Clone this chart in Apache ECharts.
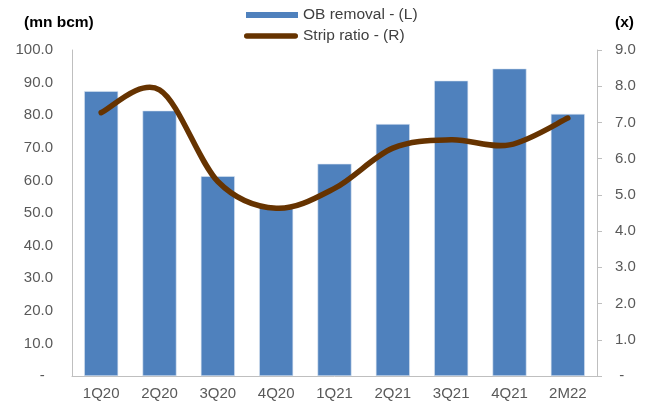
<!DOCTYPE html>
<html><head><meta charset="utf-8">
<script src="https://cdn.jsdelivr.net/npm/echarts@6/dist/echarts.min.js"></script>
<style>html,body{margin:0;padding:0;background:#fff}#c{width:654px;height:403px}</style>
</head><body><div id="c"></div>
<script>
const categories = ['1Q20','2Q20','3Q20','4Q20','1Q21','2Q21','3Q21','4Q21','2M22'];
const obRemoval = [87.4, 81.4, 61.3, 52.1, 65.1, 77.3, 90.6, 94.3, 80.4];
const stripRatio = [7.27, 7.9, 5.37, 4.63, 5.18, 6.29, 6.52, 6.38, 7.12];
const leftTicks = {min: 0, max: 100, interval: 10};
const rightTicks = {min: 0, max: 9, interval: 1};

const font = 'Liberation Sans, Arial, sans-serif';
const chart = echarts.init(document.getElementById('c'), null, {renderer: 'canvas'});

// Excel-like smoothed line (Catmull-Rom -> cubic Bezier) through the data points
function renderStrip(params, api) {
  if (params.dataIndex !== 0) return null;
  const pts = stripRatio.map((v, i) => api.coord([i, v]));
  const n = pts.length;
  let d = 'M' + pts[0][0] + ',' + pts[0][1];
  for (let i = 0; i < n - 1; i++) {
    const p0 = pts[Math.max(i - 1, 0)], p1 = pts[i], p2 = pts[i + 1], p3 = pts[Math.min(i + 2, n - 1)];
    const c1 = [p1[0] + (p2[0] - p0[0]) / 6, p1[1] + (p2[1] - p0[1]) / 6];
    const c2 = [p2[0] - (p3[0] - p1[0]) / 6, p2[1] - (p3[1] - p1[1]) / 6];
    d += ' C' + c1[0] + ',' + c1[1] + ' ' + c2[0] + ',' + c2[1] + ' ' + p2[0] + ',' + p2[1];
  }
  return {
    type: 'path',
    shape: {pathData: d},
    style: {fill: null, stroke: '#663300', lineWidth: 5.5, lineCap: 'round', lineJoin: 'round'}
  };
}

chart.setOption({
  animation: false,
  textStyle: {fontFamily: font},
  grid: {left: 72, right: 57, top: 50, bottom: 27},
  title: [
    {text: '(mn bcm)', left: 24, top: 15, padding: 0,
     textStyle: {fontFamily: font, fontSize: 15.5, fontWeight: 'bold', color: '#000'}},
    {text: '(x)', left: 615, top: 15, padding: 0,
     textStyle: {fontFamily: font, fontSize: 15.5, fontWeight: 'bold', color: '#000'}}
  ],
  legend: [
    {
      left: 246, top: 7, padding: 0, itemWidth: 52, itemHeight: 6,
      textStyle: {fontFamily: font, fontSize: 15.5, color: '#404040'},
      data: [{name: 'OB removal - (L)', icon: 'rect', itemStyle: {borderWidth: 0, color: '#4f81bd'}}]
    },
    {
      left: 244, top: 28, padding: 0, itemWidth: 54, itemHeight: 5.5,
      textStyle: {fontFamily: font, fontSize: 15.5, color: '#404040'},
      data: [{name: 'Strip ratio - (R)',
        icon: 'path://M2.75,0 L51.25,0 A2.75,2.75 0 0 1 51.25,5.5 L2.75,5.5 A2.75,2.75 0 0 1 2.75,0 Z'}]
    }
  ],
  xAxis: {
    type: 'category', data: categories,
    axisLine: {lineStyle: {color: '#bfbfbf', width: 1}},
    axisTick: {show: false},
    axisLabel: {color: '#595959', fontSize: 15, fontFamily: font, margin: 10}
  },
  yAxis: [
    {
      type: 'value', min: leftTicks.min, max: leftTicks.max, interval: leftTicks.interval,
      axisLine: {show: true, lineStyle: {color: '#bfbfbf'}},
      axisTick: {show: false},
      splitLine: {show: false},
      axisLabel: {color: '#595959', fontSize: 15, fontFamily: font, margin: 19,
        formatter: v => v === 0 ? '-  ' : v.toFixed(1)}
    },
    {
      type: 'value', min: rightTicks.min, max: rightTicks.max, interval: rightTicks.interval,
      axisLine: {show: true, lineStyle: {color: '#bfbfbf'}},
      axisTick: {show: true, length: 5, lineStyle: {color: '#bfbfbf'}},
      splitLine: {show: false},
      axisLabel: {color: '#595959', fontSize: 15, fontFamily: font, margin: 18,
        formatter: v => v === 0 ? ' -' : v.toFixed(1)}
    }
  ],
  series: [
    {
      name: 'OB removal - (L)', type: 'bar', data: obRemoval, yAxisIndex: 0,
      barWidth: 34,
      itemStyle: {color: '#4f81bd', borderColor: '#dce6f2', borderWidth: 0.6}
    },
    {
      name: 'Strip ratio - (R)', type: 'custom', yAxisIndex: 1,
      data: stripRatio.map((v, i) => [i, v]),
      encode: {x: 0, y: 1},
      renderItem: renderStrip,
      itemStyle: {color: '#663300'},
      z: 3
    }
  ]
});
</script></body></html>
